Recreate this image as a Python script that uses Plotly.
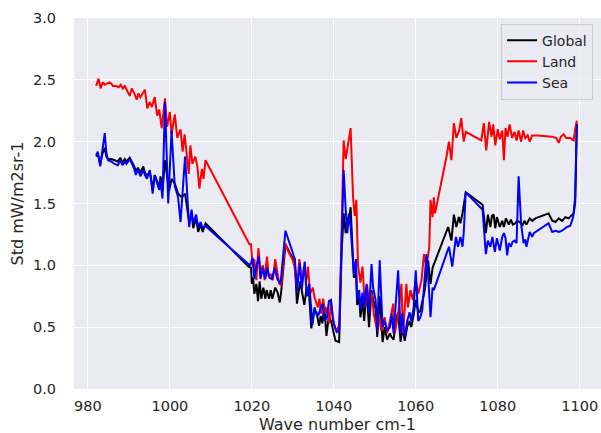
import plotly.graph_objects as go

# ---------------- data ----------------
land_wn = [982.0, 982.6, 983.1, 983.6, 984.1, 984.6, 985.2, 985.7, 986.1, 986.9, 987.5, 988.0, 988.5, 989.0,
           989.6, 990.2, 990.7, 991.2, 991.9, 992.3, 992.8, 993.4, 993.9, 994.5, 995.1, 995.6, 996.3, 996.9,
           997.4, 998.0, 998.8, 999.3, 1000.0, 1000.4, 1001.2, 1001.8, 1002.6, 1003.1, 1003.6, 1004.2, 1004.6,
           1005.0, 1005.5, 1006.2, 1006.7, 1007.2, 1007.8, 1008.2, 1008.7,
           1019.4, 1019.8, 1020.2, 1020.6, 1021.1, 1021.6, 1022.1, 1022.7, 1023.1, 1023.7, 1024.1, 1024.7,
           1025.1, 1025.7, 1026.2, 1026.7, 1027.2, 1028.1, 1028.8, 1030.0, 1030.4, 1031.0, 1031.6, 1032.2,
           1032.7, 1033.3, 1033.7, 1034.2, 1034.9, 1035.3, 1036.1, 1036.5, 1036.9, 1037.4, 1037.9, 1038.4,
           1038.9, 1039.3, 1039.8, 1040.2, 1040.8, 1041.4, 1041.9, 1042.4, 1042.9, 1043.5, 1044.1, 1044.7,
           1045.1, 1045.5, 1045.9, 1046.5, 1047.0, 1047.6, 1048.1, 1048.6, 1049.2, 1049.8, 1050.4, 1051.1,
           1051.6, 1052.4, 1053.0, 1053.7, 1054.5, 1054.9, 1055.7, 1056.5, 1056.9, 1057.7, 1058.1, 1058.7,
           1059.3, 1060.0, 1060.6, 1061.4, 1062.0, 1062.6, 1063.3, 1063.6, 1064.1, 1064.4, 1064.7, 1067.5,
           1068.1, 1068.7, 1069.3, 1069.9, 1070.6, 1071.1, 1071.7, 1072.2, 1076.0, 1076.6, 1077.2, 1077.9,
           1078.5, 1078.9, 1079.4, 1080.0, 1080.5, 1081.1, 1081.5, 1081.9, 1082.4, 1082.9, 1083.5, 1084.1,
           1084.6, 1085.1, 1085.7, 1086.2, 1086.7, 1087.3, 1087.8, 1088.4, 1089.6, 1093.3, 1094.3, 1094.9,
           1095.4, 1096.1, 1096.7, 1097.7, 1098.5, 1098.9, 1099.3]
land_std = [2.45, 2.51, 2.43, 2.48, 2.46, 2.47, 2.48, 2.47, 2.45, 2.45, 2.44, 2.46, 2.43, 2.45,
            2.41, 2.37, 2.43, 2.40, 2.34, 2.39, 2.36, 2.40, 2.42, 2.27, 2.32, 2.28, 2.36, 2.21,
            2.26, 2.11, 2.35, 2.12, 2.24, 2.06, 2.22, 2.03, 2.10, 1.92, 2.06, 1.86, 1.74,
            1.97, 1.82, 1.88, 1.80, 1.62, 1.78, 1.70, 1.85,
            1.17, 1.17, 0.99, 1.05, 0.88, 1.14, 0.96, 1.00, 0.88, 1.07, 0.91, 0.93,
            0.88, 1.05, 0.95, 0.85, 0.84, 1.18, 1.12, 1.04, 0.99, 0.82, 1.05, 0.85,
            0.99, 0.88, 0.99, 0.77, 0.82, 0.74, 0.66, 0.73, 0.61, 0.73, 0.61, 0.66,
            0.53, 0.72, 0.58, 0.50, 0.47, 0.53, 1.26, 2.01, 1.86, 2.00, 2.11, 1.55,
            1.40, 1.53, 1.00, 0.86, 0.99, 0.66, 0.84, 0.70, 0.78, 0.60, 0.50, 0.58,
            0.47, 0.58, 0.45, 0.55, 0.69, 0.45, 0.61, 0.85, 0.45, 0.85, 0.66, 0.80,
            0.72, 0.88, 0.77, 0.88, 1.09, 0.99, 1.15, 1.53, 1.39, 1.55, 1.42, 1.88,
            2.00, 1.85, 2.15, 2.03, 2.09, 2.19, 2.00, 2.08, 2.01, 2.15, 1.93, 2.16,
            2.04, 2.14, 1.97, 2.10, 2.02, 2.09, 1.85, 2.11, 2.04, 2.14, 2.03, 2.08,
            2.01, 2.09, 2.00, 2.09, 2.03, 2.05, 2.00, 2.05, 2.05, 2.04, 2.03, 1.99,
            2.04, 2.06, 2.03, 2.03, 2.01, 2.10, 2.17]

sea_wn = [982.0, 982.4, 983.0, 983.5, 984.1, 984.5, 984.9, 985.7, 986.5, 987.3, 987.9, 988.4, 989.0, 989.4,
          990.2, 990.9, 991.3, 991.7, 992.2, 992.8, 993.5, 993.9, 994.4, 995.1, 995.8, 996.3, 996.9, 997.4,
          997.7, 998.2, 998.8, 999.6, 1000.4, 1001.2, 1002.0, 1002.6, 1003.7, 1004.7, 1005.3, 1005.7,
          1006.4, 1006.9, 1007.5, 1008.0, 1008.6,
          1019.5, 1019.8, 1020.2, 1020.6, 1021.1, 1021.7, 1022.1, 1022.7, 1023.3, 1023.7, 1024.3, 1024.9,
          1025.6, 1026.2, 1027.0, 1028.2, 1030.5, 1031.0, 1031.7, 1032.2, 1032.9, 1033.4, 1034.0, 1034.8,
          1035.3, 1035.8, 1036.3, 1036.8, 1037.3, 1037.7, 1038.3, 1038.8, 1039.3, 1039.8, 1040.3, 1040.7,
          1041.3, 1041.9, 1042.4, 1042.9, 1043.3, 1043.7, 1044.1, 1044.6, 1044.9, 1045.4, 1045.7, 1046.2,
          1046.5, 1047.0, 1047.4, 1048.0, 1048.6, 1049.2, 1049.6, 1050.2, 1050.6, 1051.2, 1051.9, 1052.4,
          1053.0, 1053.7, 1054.1, 1054.6, 1055.1, 1055.7, 1056.3, 1056.7, 1057.3, 1057.9, 1058.5, 1058.9,
          1059.5, 1060.0, 1060.6, 1061.1, 1061.6, 1062.2, 1062.6, 1063.0, 1063.6, 1064.1, 1064.4, 1068.1,
          1068.9, 1069.8, 1070.3, 1070.9, 1071.4, 1071.7, 1072.2, 1076.3, 1076.7, 1077.1, 1077.6, 1078.2,
          1078.7, 1079.3, 1079.8, 1080.5, 1081.1, 1081.5, 1081.9, 1082.3, 1082.7, 1083.2, 1083.6, 1084.1,
          1084.6, 1085.1, 1085.7, 1086.3, 1086.7, 1087.0, 1087.8, 1088.4, 1088.8, 1092.4, 1093.3, 1094.1,
          1094.9, 1095.7, 1096.9, 1097.7, 1098.4, 1098.9, 1099.3]
sea_std = [1.89, 1.92, 1.80, 1.92, 2.07, 1.91, 1.85, 1.84, 1.82, 1.81, 1.85, 1.81, 1.84, 1.82,
           1.86, 1.81, 1.78, 1.73, 1.78, 1.72, 1.77, 1.73, 1.70, 1.77, 1.58, 1.73, 1.66, 1.61,
           1.69, 1.54, 2.32, 1.50, 2.09, 1.64, 1.55, 1.35, 1.88, 1.31, 1.45, 1.34,
           1.41, 1.31, 1.35, 1.30, 1.32,
           1.00, 1.02, 1.06, 0.89, 0.99, 1.07, 0.89, 0.98, 0.89, 0.98, 0.90, 0.89,
           0.98, 0.89, 0.85, 1.28, 1.05, 0.79, 1.02, 0.81, 1.03, 0.75, 0.85, 0.52,
           0.66, 0.60, 0.60, 0.66, 0.69, 0.55, 0.58, 0.71, 0.72, 0.55, 0.50, 0.46,
           0.47, 1.26, 1.77, 1.45, 1.26, 1.42, 1.31, 1.07, 0.93, 1.05, 0.72, 0.80,
           0.64, 0.78, 0.66, 0.85, 0.61, 1.01, 0.82, 0.72, 0.47, 1.04, 0.50, 0.55,
           0.47, 0.50, 0.61, 0.45, 0.72, 0.96, 0.45, 0.61, 0.42, 0.55, 0.62, 0.55,
           0.66, 0.96, 0.55, 0.58, 0.64, 0.93, 1.09, 0.93, 0.58, 0.82, 0.80, 1.15,
           0.99, 1.23, 1.15, 1.23, 1.15, 1.26, 1.59, 1.45, 1.28, 1.09, 1.20, 1.15,
           1.23, 1.11, 1.22, 1.12, 1.23, 1.26, 1.22, 1.08, 1.18, 1.15, 1.19, 1.20,
           1.18, 1.72, 1.34, 1.18, 1.21, 1.15, 1.27, 1.23, 1.26, 1.34, 1.27, 1.28,
           1.27, 1.28, 1.31, 1.32, 1.39, 1.50, 2.14]

global_wn = [982.0, 982.4, 983.0, 983.5, 984.1, 984.5, 984.9, 985.7, 986.5, 987.3, 987.9, 988.4, 989.0, 989.4,
             990.2, 990.9, 991.3, 991.7, 992.2, 992.8, 993.5, 993.9, 994.4, 995.1, 995.8, 996.3, 996.9, 997.4,
             997.7, 998.2, 998.8, 999.8, 1000.4, 1001.2, 1002.0, 1002.9, 1003.7, 1004.7, 1005.3, 1005.7,
             1006.4, 1006.9, 1007.5, 1008.0, 1008.7,
             1019.2, 1019.8, 1020.0, 1020.3, 1020.6, 1021.1, 1021.5, 1021.9, 1022.3, 1022.8, 1023.3, 1023.6,
             1024.2, 1024.6, 1025.0, 1025.7, 1026.3, 1026.8, 1027.2, 1028.2, 1030.5, 1031.0, 1031.8, 1032.3,
             1032.8, 1033.4, 1034.0, 1034.5, 1035.2, 1035.8, 1036.4, 1036.8, 1037.2, 1037.7, 1038.2, 1038.8,
             1039.4, 1040.0, 1040.4, 1041.3, 1041.9, 1042.4, 1042.9, 1043.3, 1043.7, 1044.1, 1044.6, 1044.9,
             1045.4, 1045.7, 1046.2, 1046.5, 1047.0, 1047.4, 1048.0, 1048.6, 1049.2, 1049.6, 1050.2, 1050.6,
             1051.2, 1051.9, 1052.4, 1053.0, 1053.7, 1054.1, 1054.6, 1055.1, 1055.7, 1056.3, 1056.7, 1057.3,
             1057.9, 1058.5, 1058.9, 1059.5, 1060.0, 1060.6, 1061.1, 1061.6, 1062.2, 1062.6, 1063.0, 1063.6,
             1064.1, 1067.9, 1068.7, 1069.3, 1069.9, 1070.5, 1070.9, 1071.4, 1072.2, 1076.3, 1077.1, 1077.6,
             1078.2, 1078.6, 1079.0, 1079.4, 1079.8, 1080.5, 1081.1, 1081.5, 1082.0, 1082.7, 1083.2, 1083.7,
             1084.3, 1084.7, 1085.4, 1086.0, 1086.5, 1087.0, 1087.8, 1088.4, 1089.2, 1092.4, 1093.3, 1094.1,
             1094.9, 1095.7, 1096.5, 1097.3, 1098.1, 1098.5, 1098.9, 1099.3]
global_std = [1.88, 1.90, 1.82, 1.90, 1.95, 1.88, 1.86, 1.86, 1.85, 1.84, 1.87, 1.83, 1.86, 1.84,
              1.87, 1.83, 1.80, 1.76, 1.79, 1.75, 1.80, 1.75, 1.72, 1.76, 1.62, 1.73, 1.68, 1.62,
              1.72, 1.60, 1.85, 1.60, 1.70, 1.66, 1.58, 1.55, 1.58, 1.35, 1.42, 1.30,
              1.38, 1.27, 1.33, 1.27, 1.34,
              0.99, 0.98, 0.85, 0.90, 0.77, 0.85, 0.71, 0.87, 0.73, 0.82, 0.73, 0.80,
              0.73, 0.80, 0.73, 0.82, 0.78, 0.70, 0.80, 1.17, 1.02, 0.69, 0.87, 0.78,
              0.68, 0.82, 0.75, 0.49, 0.63, 0.62, 0.51, 0.59, 0.53, 0.67, 0.43, 0.59,
              0.54, 0.45, 0.39, 0.38, 1.10, 1.42, 1.26, 1.39, 1.35, 1.47, 1.09, 0.90,
              0.95, 0.68, 0.75, 0.58, 0.72, 0.55, 0.80, 0.50, 0.80, 0.72, 0.65, 0.42,
              0.75, 0.38, 0.50, 0.40, 0.45, 0.42, 0.40, 0.55, 0.62, 0.38, 0.50, 0.39,
              0.50, 0.55, 0.50, 0.60, 0.72, 0.62, 0.63, 0.70, 0.80, 0.92, 1.04, 0.85,
              0.98, 1.31, 1.20, 1.41, 1.31, 1.39, 1.34, 1.42, 1.59, 1.49, 1.26, 1.41,
              1.31, 1.40, 1.41, 1.30, 1.39, 1.31, 1.36, 1.31, 1.38, 1.33, 1.37, 1.33,
              1.34, 1.36, 1.35, 1.32, 1.36, 1.33, 1.38, 1.36, 1.38, 1.42, 1.36, 1.35,
              1.38, 1.36, 1.39, 1.38, 1.41, 1.42, 1.55, 2.15]

x_ticks = [980, 1000, 1020, 1040, 1060, 1080, 1100]
y_ticks = [0.0, 0.5, 1.0, 1.5, 2.0, 2.5, 3.0]

# ---------------- figure ----------------
FONT = "DejaVu Sans"
TXT = "#262626"
TICK = 14.5
TITLE = 16

fig = go.Figure()
for name, xs, ys, col in [("Global", global_wn, global_std, "black"),
                          ("Land", land_wn, land_std, "red"),
                          ("Sea", sea_wn, sea_std, "blue")]:
    fig.add_trace(go.Scatter(x=xs, y=ys, mode="lines", name=name,
                             line=dict(color=col, width=2)))

fig.update_layout(
    width=601, height=433,
    margin=dict(l=74, r=0, t=18, b=44),
    paper_bgcolor="white", plot_bgcolor="#EAEAF2",
    font=dict(family=FONT, size=TICK, color=TXT),
    showlegend=True,
    legend=dict(x=0.985, y=0.985, xanchor="right", yanchor="top",
                bgcolor="rgba(234,234,242,0.8)", bordercolor="#cccccc", borderwidth=1,
                font=dict(family=FONT, size=14, color=TXT),
                itemwidth=30, tracegroupgap=0),
    annotations=[dict(text="Wave number cm-1", xref="paper", yref="paper", x=0.5, y=0,
                      xanchor="center", yanchor="middle", yshift=-35, showarrow=False,
                      font=dict(family=FONT, size=TITLE, color=TXT))],
)
fig.update_xaxes(range=[976.6, 1105.2], tickvals=x_ticks, ticktext=[str(v) for v in x_ticks],
                 showgrid=True, gridcolor="white", gridwidth=1.3, zeroline=False, showline=False,
                 ticks="outside", ticklen=4, tickcolor="rgba(0,0,0,0)", automargin=False,
                 tickfont=dict(size=TICK, color=TXT))
fig.update_yaxes(range=[0, 3.0], tickvals=y_ticks, ticktext=[f"{v:.1f}" for v in y_ticks],
                 showgrid=True, gridcolor="white", gridwidth=1.3, zeroline=False, showline=False,
                 ticks="outside", ticklen=14, tickcolor="rgba(0,0,0,0)", automargin=False,
                 tickfont=dict(size=TICK, color=TXT),
                 title=dict(text="Std mW/m2sr-1", font=dict(size=TITLE, color=TXT), standoff=5))

fig.write_html("out.html")
